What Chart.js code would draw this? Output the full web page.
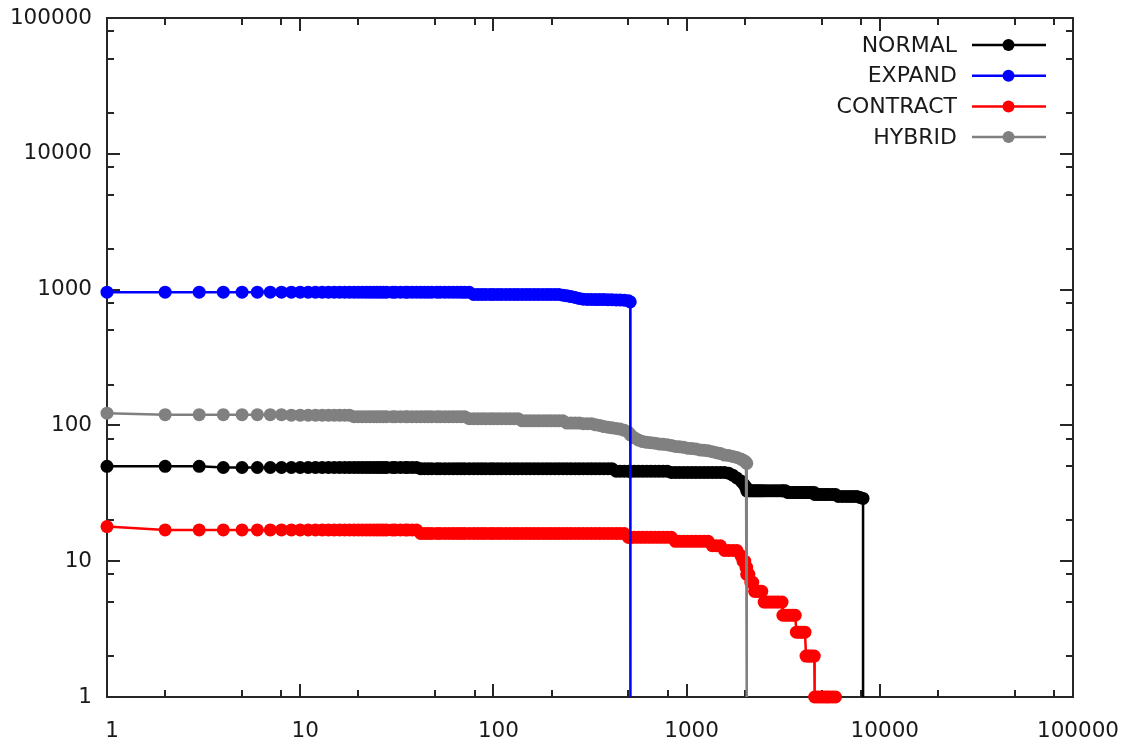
<!DOCTYPE html>
<html>
<head>
<meta charset="utf-8">
<script src="https://cdn.jsdelivr.net/npm/chart.js@4.4.1/dist/chart.umd.min.js"></script>
<style>
  html, body { margin: 0; padding: 0; background: #ffffff; }
  #wrap { width: 1125px; height: 744px; position: relative; }
</style>
</head>
<body>
<div id="wrap"><canvas id="c" width="1125" height="744"></canvas></div>
<script>
// ---------------- data ----------------
// shared rank grid (x values)
const ranks = [
  1, 2, 3, 4, 5, 6, 7, 8, 9, 10,
  11, 12, 13, 14, 15, 16, 17, 18, 19, 20,
  21, 22, 23, 24, 25, 26, 27, 28, 30, 31,
  33, 35, 36, 38, 40, 42, 44, 46, 48, 51,
  53, 56, 59, 62, 65, 68, 71, 75, 79, 83,
  87, 91, 96, 100, 105, 110, 116, 122, 128, 134,
  141, 148, 155, 163, 171, 180, 189, 198, 208, 218,
  229, 240, 252, 265, 278, 292, 307, 322, 338, 355,
  373, 392, 411, 432, 453, 476, 500, 511, 512, 537,
  564, 592, 622, 653, 686, 720, 756, 794, 834, 875,
  919, 965, 1013, 1064, 1117, 1173, 1232, 1293, 1358, 1426,
  1497, 1572, 1650, 1733, 1820, 1910, 1960, 2000, 2030, 2047,
  2048, 2100, 2150, 2200, 2250, 2300, 2350, 2400, 2450, 2520,
  2600, 2700, 2800, 2900, 3000, 3120, 3150, 3250, 3350, 3450,
  3550, 3650, 3700, 3800, 3900, 4000, 4100, 4150, 4250, 4350,
  4450, 4580, 4600, 4750, 4900, 5050, 5200, 5350, 5500, 5700,
  5900, 6100, 6400, 6700, 7000, 7300, 7600, 7900, 8191, 8192
];

// values per rank; each array ends where its series ends (0 = drop to the axis)
const normalCounts = [
  50, 50, 50, 49, 49, 49, 49, 49, 49, 49,
  49, 49, 49, 49, 49, 49, 49, 49, 49, 49,
  49, 49, 49, 49, 49, 49, 49, 49, 49, 49,
  49, 49, 49, 49, 49, 48, 48, 48, 48, 48,
  48, 48, 48, 48, 48, 48, 48, 48, 48, 48,
  48, 48, 48, 48, 48, 48, 48, 48, 48, 48,
  48, 48, 48, 48, 48, 48, 48, 48, 48, 48,
  48, 48, 48, 48, 48, 48, 48, 48, 48, 48,
  48, 48, 48, 46, 46, 46, 46, 46, 46, 46,
  46, 46, 46, 46, 46, 46, 46, 46, 45, 45,
  45, 45, 45, 45, 45, 45, 45, 45, 45, 45,
  45, 45, 44.5, 43, 41, 39, 37.5, 36, 35, 34.5,
  33, 33, 33, 33, 33, 33, 33, 33, 33, 33,
  33, 33, 33, 33, 33, 33, 33, 33, 32, 32,
  32, 32, 32, 32, 32, 32, 32, 32, 32, 32,
  32, 32, 31, 31, 31, 31, 31, 31, 31, 31,
  31, 30, 30, 30, 30, 30, 30, 29.5, 29, 0
];

const expandCounts = [
  958, 957, 957, 957, 957, 957, 957, 957, 957, 957,
  957, 957, 957, 957, 957, 957, 957, 957, 957, 957,
  957, 957, 957, 957, 957, 957, 957, 957, 957, 957,
  957, 957, 957, 957, 957, 957, 957, 957, 957, 957,
  957, 957, 957, 957, 957, 956, 955, 955, 920, 920,
  920, 920, 920, 920, 920, 920, 920, 920, 920, 920,
  920, 920, 920, 920, 920, 920, 920, 920, 920, 920,
  910, 900, 888, 875, 860, 850, 847, 846, 845, 845,
  844, 843, 842, 840, 838, 835, 828, 812, 0
];

const contractCounts = [
  18, 17, 17, 17, 17, 17, 17, 17, 17, 17,
  17, 17, 17, 17, 17, 17, 17, 17, 17, 17,
  17, 17, 17, 17, 17, 17, 17, 17, 17, 17,
  17, 17, 17, 17, 17, 16, 16, 16, 16, 16,
  16, 16, 16, 16, 16, 16, 16, 16, 16, 16,
  16, 16, 16, 16, 16, 16, 16, 16, 16, 16,
  16, 16, 16, 16, 16, 16, 16, 16, 16, 16,
  16, 16, 16, 16, 16, 16, 16, 16, 16, 16,
  16, 16, 16, 16, 16, 16, 15, 15, 15, 15,
  15, 15, 15, 15, 15, 15, 15, 15, 15, 14,
  14, 14, 14, 14, 14, 14, 14, 14, 13, 13,
  13, 12, 12, 12, 12, 11, 10, 10, 9, 9,
  8, 8, 7, 7, 6, 6, 6, 6, 6, 5,
  5, 5, 5, 5, 5, 5, 4, 4, 4, 4,
  4, 4, 3, 3, 3, 3, 3, 2, 2, 2,
  2, 2, 1, 1, 1, 1, 1, 1, 1, 1,
  1
];

const hybridCounts = [
  123, 120, 120, 120, 120, 120, 120, 120, 119, 119,
  119, 119, 119, 119, 119, 119, 119, 119, 116, 116,
  116, 116, 116, 116, 116, 116, 116, 116, 116, 116,
  116, 116, 116, 116, 116, 116, 116, 116, 116, 116,
  116, 116, 116, 116, 116, 116, 116, 112, 112, 112,
  112, 112, 112, 112, 112, 112, 112, 112, 112, 112,
  108, 108, 108, 108, 108, 108, 108, 108, 108, 108,
  108, 104, 104, 104, 104, 103, 103, 103, 101, 100,
  98, 97, 96, 95, 94, 92, 89, 86, 85, 81,
  78, 76, 75, 74.5, 74, 73, 72.5, 72, 71, 70,
  69.5, 69, 68, 67.5, 67, 66, 65.5, 65, 64, 63,
  62, 60.5, 60, 59, 58, 56.5, 55.5, 54.5, 53.5, 52.5,
  0
];

const seriesNames = ['NORMAL', 'EXPAND', 'CONTRACT', 'HYBRID'];
const seriesCounts = [normalCounts, expandCounts, contractCounts, hybridCounts];
const seriesColors = ['#000000', '#0000ff', '#ff0000', '#808080'];
const seriesDrawOrder = [3, 0, 2, 1]; // lower = drawn on top

const xTickValues = [1, 10, 100, 1000, 10000, 100000];
const xTickLabels = ['1', '10', '100', '1000', '10000', '100000'];
const yTickValues = [1, 10, 100, 1000, 10000, 100000];
const yTickLabels = ['1', '10', '100', '1000', '10000', '100000'];
const minorFactors = [2, 5, 8];

// ---------------- styling ----------------
const FONT_FAMILY = '"DejaVu Sans", "Liberation Sans", sans-serif';
const FONT_SIZE = 21.5;
const KEY_FONT_SIZE = 22;
const TEXT_COLOR = '#1a1a1a';
const AXIS_COLOR = '#262626';
const Y_MIN = 1, Y_MAX = 100000, X_MIN = 1, X_MAX = 100000;

// zero counts cannot sit on a log axis: they are drawn on the bottom edge
function toPoints(counts) {
  return counts.map((v, i) => ({ x: ranks[i], y: v === 0 ? Y_MIN : v }));
}

const frameAndTicks = {
  id: 'frameAndTicks',
  beforeDatasetsDraw(chart) {
    const { ctx, chartArea: a, scales } = chart;
    const xs = scales.x, ys = scales.y;
    ctx.save();
    ctx.strokeStyle = AXIS_COLOR;
    ctx.lineWidth = 2;
    ctx.lineCap = 'butt';
    ctx.strokeRect(a.left, a.top, a.right - a.left, a.bottom - a.top);
    const MAJOR = 13, MINOR = 7;
    ctx.beginPath();
    for (let d = X_MIN; d <= X_MAX; d *= 10) {
      const vals = [[d, MAJOR]];
      if (d < X_MAX) minorFactors.forEach(f => vals.push([d * f, MINOR]));
      vals.forEach(([v, len]) => {
        const px = Math.round(xs.getPixelForValue(v));
        ctx.moveTo(px, a.bottom); ctx.lineTo(px, a.bottom - len);
        ctx.moveTo(px, a.top); ctx.lineTo(px, a.top + len);
      });
    }
    for (let d = Y_MIN; d <= Y_MAX; d *= 10) {
      const vals = [[d, MAJOR]];
      if (d < Y_MAX) minorFactors.forEach(f => vals.push([d * f, MINOR]));
      vals.forEach(([v, len]) => {
        const py = Math.round(ys.getPixelForValue(v));
        ctx.moveTo(a.left, py); ctx.lineTo(a.left + len, py);
        ctx.moveTo(a.right, py); ctx.lineTo(a.right - len, py);
      });
    }
    ctx.stroke();
    ctx.restore();
  }
};

const keyBox = {
  id: 'keyBox',
  afterDraw(chart) {
    const { ctx, chartArea: a } = chart;
    ctx.save();
    ctx.font = KEY_FONT_SIZE + 'px ' + FONT_FAMILY;
    ctx.textAlign = 'right';
    ctx.textBaseline = 'middle';
    const textRight = a.right - 116;
    const lineL = a.right - 101, lineR = a.right - 27, markX = a.right - 64.5;
    chart.data.datasets.forEach((ds, i) => {
      const yy = a.top + 27 + i * 30.7;
      ctx.fillStyle = TEXT_COLOR;
      ctx.fillText(ds.label, textRight, yy + 1);
      ctx.strokeStyle = ds.borderColor;
      ctx.lineWidth = 2.5;
      ctx.beginPath(); ctx.moveTo(lineL, yy); ctx.lineTo(lineR, yy); ctx.stroke();
      ctx.fillStyle = ds.backgroundColor;
      ctx.beginPath(); ctx.arc(markX, yy, 6, 0, Math.PI * 2); ctx.fill();
    });
    ctx.restore();
  }
};

const datasets = seriesNames.map((name, k) => ({
  label: name,
  data: toPoints(seriesCounts[k]),
  borderColor: seriesColors[k],
  backgroundColor: seriesColors[k],
  borderWidth: 2.5,
  pointRadius: ctx => (seriesCounts[k][ctx.dataIndex] === 0 ? 0 : 6.5),
  pointBorderWidth: 0,
  pointHoverRadius: 0,
  pointStyle: 'circle',
  tension: 0,
  spanGaps: true,
  clip: false,
  order: seriesDrawOrder[k]
}));

new Chart(document.getElementById('c'), {
  type: 'line',
  data: { datasets },
  options: {
    responsive: false,
    animation: false,
    devicePixelRatio: 1,
    events: [],
    layout: { autoPadding: false, padding: { top: 18, right: 52, left: 0, bottom: 0 } },
    plugins: { legend: { display: false }, tooltip: { enabled: false }, title: { display: false } },
    scales: {
      x: {
        type: 'logarithmic',
        min: X_MIN, max: X_MAX,
        afterBuildTicks: s => { s.ticks = xTickValues.map(v => ({ value: v })); },
        afterFit: s => { s.height = 47; s.paddingLeft = 0; s.paddingRight = 0; },
        grid: { display: false, drawTicks: false },
        border: { display: false },
        ticks: {
          autoSkip: false, maxRotation: 0, minRotation: 0,
          padding: 22, labelOffset: 5,
          color: TEXT_COLOR,
          font: { family: FONT_FAMILY, size: FONT_SIZE },
          callback: (v, i) => xTickLabels[i]
        }
      },
      y: {
        type: 'logarithmic',
        min: Y_MIN, max: Y_MAX,
        afterBuildTicks: s => { s.ticks = yTickValues.map(v => ({ value: v })); },
        afterFit: s => { s.width = 107; s.paddingTop = 0; s.paddingBottom = 0; },
        grid: { display: false, drawTicks: false },
        border: { display: false },
        ticks: {
          autoSkip: false,
          padding: 15,
          color: TEXT_COLOR,
          font: { family: FONT_FAMILY, size: FONT_SIZE },
          callback: (v, i) => yTickLabels[i]
        }
      }
    }
  },
  plugins: [frameAndTicks, keyBox]
});
</script>
</body>
</html>
